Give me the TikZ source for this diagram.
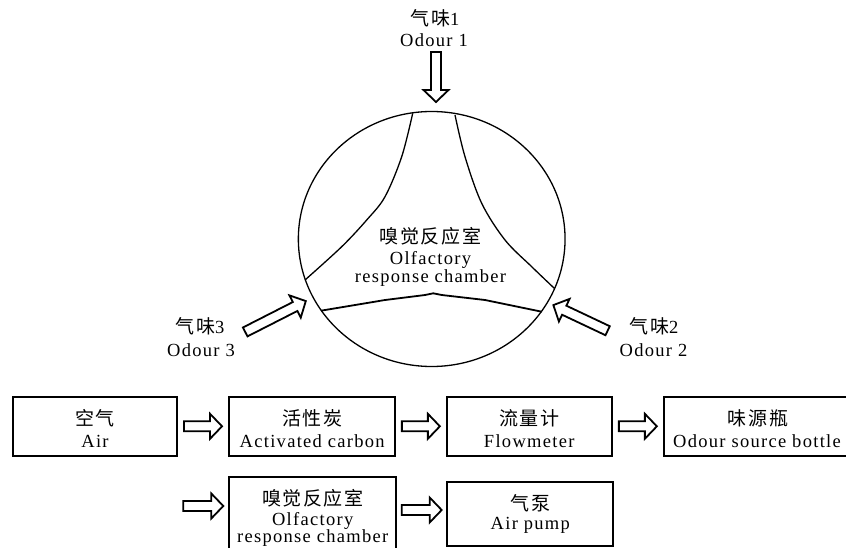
\documentclass[tikz,border=0pt]{standalone}
\usepackage{fontspec}
\setmainfont{Liberation Serif}[LetterSpace=7]
\newfontfamily\cjk{Noto Sans CJK SC}[LetterSpace=8]
\usetikzlibrary{shapes.geometric,calc}
\tikzset{
  box/.style={draw, line width=2pt, inner sep=0pt, outer sep=0pt},
  lat/.style={font=\fontsize{18.5}{21}\selectfont, inner sep=0pt, anchor=base},
  han/.style={font=\fontsize{19}{22}\selectfont\cjk, inner sep=0pt, anchor=base},
  arrowline/.style={draw, line width=1.8pt, fill=white, line join=miter},
  curveline/.style={line width=1.3pt},
  barrow/.pic={
    \pgfmathsetmacro\hl{#1/2}
    \pgfmathsetmacro\hb{#1/2-12}
    \path[arrowline] ({-\hl*1pt},5pt) -- ({\hb*1pt},5pt) -- ({\hb*1pt},12.5pt)
      -- ({\hl*1pt},0pt) -- ({\hb*1pt},-12.5pt) -- ({\hb*1pt},-5pt)
      -- ({-\hl*1pt},-5pt) -- cycle;
  }
}
\newcommand\digit[1]{{\fontsize{18.5}{21}\selectfont\rmfamily #1}}
\begin{document}
\begin{tikzpicture}[x=1pt,y=-1pt]
\useasboundingbox (0,0) rectangle (846,548);
\fill[white] (0,0) rectangle (846,548);
\clip (0,0) rectangle (846,548);

% ---------- chamber ----------
\node[draw, ellipse, line width=1.3pt, inner sep=0pt, minimum width=266.7pt, minimum height=255pt] (chamber) at (431.7,239) {};
\draw[curveline] plot[smooth, tension=0.55] coordinates {(412.7,113.3) (401.7,156.7) (385,196.7) (366.7,220) (341.7,246.7) (305,280)};
\draw[curveline] plot[smooth, tension=0.55] coordinates {(455,115) (465,156.7) (481.7,203.3) (505,240) (531.7,266.7) (554.3,288.3)};
\draw[line width=1.8pt] (321,310.7) -- (385,300) -- (425,295) -- (433.3,293.3) -- (441.7,295) -- (485,300) -- (541.7,311.7);

\node[han] (ct1) at (430.5,243.9) {嗅觉反应室};
\node[lat] (ct2) at (430.5,264.1) {Olfactory};
\node[lat] (ct3) at (430.5,282.8) {response chamber};

% ---------- odours ----------
\node[han] (o1a) at (435,25.2) {气味\digit{1}};
\node[lat] (o1b) at (434,46.1) {Odour 1};
\node[han] (o3a) at (200,333.9) {气味\digit{3}};
\node[lat] (o3b) at (201,356.1) {Odour 3};
\node[han] (o2a) at (654,333.9) {气味\digit{2}};
\node[lat] (o2b) at (653.5,356.1) {Odour 2};

\coordinate (a1) at (436,77);
\coordinate (a3) at (275.5,316.5);
\coordinate (a2) at (580.5,317.9);
\pic[rotate=-90] at (a1) {barrow=50};
\pic[rotate=27] at (a3) {barrow=68};
\pic[rotate=154.7] at (a2) {barrow=60};

% ---------- row 1 ----------
\node[box, minimum width=163.4pt, minimum height=59.3pt] (b1) at (95,426.3) {};
\node[box, minimum width=165.7pt, minimum height=59.3pt] (b2) at (312.2,426.3) {};
\node[box, minimum width=165pt, minimum height=59.3pt] (b3) at (529.2,426.3) {};
\node[box, minimum width=192pt, minimum height=59.3pt] (b4) at (760,426.3) {};

\node[han] (t1a) at (95,425.2) {空气};
\node[lat] (t1b) at (95,447.8) {Air};
\node[han] (t2a) at (312.2,425.2) {活性炭};
\node[lat] (t2b) at (312.2,447.8) {Activated carbon};
\node[han] (t3a) at (529.2,425.2) {流量计};
\node[lat] (t3b) at (529.2,447.8) {Flowmeter};
\node[han] (t4a) at (758,425.2) {味源瓶};
\node[lat] (t4b) at (757,447.8) {Odour source bottle};

\pic at ($(b1.east)!0.5!(b2.west)$) {barrow=38};
\pic at ($(b2.east)!0.5!(b3.west)$) {barrow=38};
\pic at ($(b3.east)!0.5!(b4.west)$) {barrow=38};

% ---------- row 2 ----------
\node[box, minimum width=166.7pt, minimum height=90pt] (b5) at (312.7,521.7) {};
\node[box, minimum width=166pt, minimum height=64.3pt] (b6) at (530.3,513.8) {};

\node[han] (t5a) at (312.7,505.5) {嗅觉反应室};
\node[lat] (t5b) at (312.7,525.4) {Olfactory};
\node[lat] (t5c) at (312.7,542.8) {response chamber};
\node[han] (t6a) at (530.3,510.2) {气泵};
\node[lat] (t6b) at (530.3,529.1) {Air pump};

\coordinate (in5) at (203.3,506);
\pic at (in5) {barrow=40};
\coordinate (m56) at ($(b5.east)!0.5!(b6.west)$);
\pic at (m56 |- 0,510) {barrow=40};
\end{tikzpicture}
\end{document}
